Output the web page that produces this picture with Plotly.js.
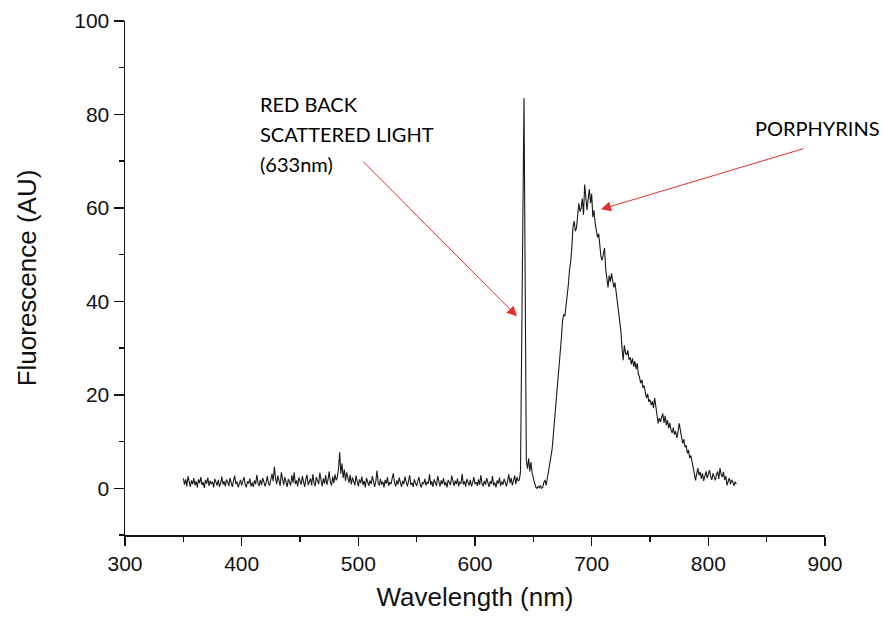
<!DOCTYPE html>
<html>
<head>
<meta charset="utf-8">
<script src="https://cdn.plot.ly/plotly-3.0.1.min.js"></script>
<style>
  html, body { margin: 0; padding: 0; background: #fff; }
  #chart { width: 884px; height: 618px; }
</style>
</head>
<body>
<div id="chart"></div>
<script>
// Fluorescence spectrum sampled every 1 nm from 350 nm to 824 nm
const wavelengthStart = 350;
const wavelengthStep = 1;

const fluorescence = [
  // 350-399
  2.1, 0.8, 1.9, 0.4, 2.6, 1.2, 0.3, 1.7, 0.9, 2.2,
  0.6, 1.5, 0.2, 1.9, 1.1, 2.4, 0.7, 1.3, 0.1, 1.8,
  1.0, 2.3, 0.5, 1.6, 0.9, 1.4, 0.2, 2.0, 1.2, 0.6,
  1.8, 0.3, 1.1, 2.5, 0.8, 1.5, 0.4, 1.9, 1.3, 0.5,
  2.2, 1.0, 0.3, 1.6, 2.7, 0.9, 1.4, 0.2, 1.1, 1.8,
  // 400-449
  0.6, 1.3, 2.4, 0.8, 0.2, 1.5, 1.0, 2.1, 0.4, 1.2,
  0.3, 1.7, 0.9, 2.9, 1.1, 0.5, 1.8, 0.7, 2.2, 1.4,
  0.4, 1.2, 2.6, 1.0, 0.6, 1.9, 3.1, 1.5, 4.6, 2.2,
  0.9, 2.7, 1.3, 0.5, 3.4, 1.8, 0.7, 2.4, 1.1, 0.3,
  2.0, 1.4, 0.6, 2.8, 1.2, 3.4, 0.9, 1.7, 0.4, 2.3,
  // 450-499
  1.5, 0.8, 2.6, 1.1, 0.3, 1.9, 2.9, 0.7, 1.4, 2.1,
  0.6, 3.0, 1.2, 0.5, 2.4, 1.6, 0.9, 3.3, 1.3, 0.4,
  2.1, 1.0, 2.8, 0.7, 1.8, 3.6, 1.4, 0.6, 2.5, 1.1,
  3.0, 1.7, 2.4, 4.2, 7.7, 3.1, 5.3, 2.2, 4.0, 1.6,
  3.4, 2.0, 1.2, 2.9, 0.8, 2.3, 1.5, 0.6, 2.7, 1.3,
  // 500-549
  0.4, 1.9, 1.1, 2.5, 0.7, 1.6, 0.2, 2.2, 1.0, 0.5,
  1.7, 0.9, 2.6, 1.2, 0.3, 1.5, 3.8, 1.1, 0.6, 2.0,
  0.8, 1.4, 0.2, 1.8, 1.0, 2.4, 0.5, 1.3, 0.9, 2.1,
  3.2, 1.2, 0.4, 1.7, 0.8, 2.3, 1.1, 0.3, 1.6, 0.9,
  2.5, 1.0, 0.4, 1.4, 2.8, 0.7, 1.2, 0.3, 1.9, 1.1,
  // 550-599
  0.5, 1.6, 2.4, 0.8, 0.2, 1.3, 0.9, 2.0, 0.6, 1.4,
  1.0, 3.0, 0.7, 1.5, 0.3, 1.9, 1.2, 0.5, 2.6, 1.0,
  0.4, 1.7, 0.9, 2.2, 0.6, 1.3, 0.2, 1.8, 1.1, 0.7,
  2.7, 1.2, 0.5, 1.6, 0.9, 2.1, 0.4, 1.4, 1.0, 3.1,
  0.8, 1.5, 0.3, 2.0, 1.1, 0.6, 1.8, 0.4, 1.2, 2.4,
  // 600-649 (back-scattered laser line near 642 nm)
  0.9, 1.3, 0.5, 1.9, 0.7, 2.8, 1.0, 0.4, 1.6, 0.8,
  2.2, 1.1, 0.3, 1.5, 0.9, 2.6, 0.6, 1.2, 0.2, 1.7,
  1.0, 2.3, 0.5, 1.4, 0.8, 2.0, 1.2, 0.4, 1.8, 3.0,
  1.1, 2.2, 0.6, 1.5, 2.7, 0.9, 2.4, 1.6, 1.8, 3.5,
  30.0, 72.0, 83.5, 45.0, 6.0, 4.2, 6.4, 3.6, 5.6, 3.2,
  // 650-699 (porphyrin band rising)
  2.0, 0.8, 0.3, 0.0, 0.4, 0.1, 0.6, 0.0, 0.2, 1.2,
  1.8, 0.6, 2.2, 3.4, 4.8, 6.0, 8.2, 11.0, 13.8, 16.8,
  20.0, 23.5, 26.8, 29.5, 32.0, 35.8, 37.2, 36.8, 39.0, 40.2,
  43.5, 46.7, 48.5, 51.5, 56.0, 57.2, 55.0, 55.7, 59.5, 61.0,
  59.2, 60.0, 62.0, 58.5, 65.0, 61.5, 59.5, 62.0, 64.0, 61.0,
  // 700-749
  63.0, 58.0, 59.5, 56.7, 55.5, 53.7, 54.5, 51.0, 49.5, 48.8,
  50.0, 51.4, 47.0, 45.0, 43.0, 45.5, 44.2, 46.0, 44.5, 43.0,
  44.0, 42.0, 40.0, 37.5, 35.0, 33.8, 30.0, 27.4, 30.6, 29.0,
  28.5, 29.5, 27.5, 28.0, 26.5, 27.8, 26.0, 27.2, 25.5, 26.8,
  24.5, 23.8, 22.5, 23.2, 21.5, 22.0, 20.5, 19.3, 20.2, 18.5,
  // 750-799
  19.0, 17.8, 18.6, 17.2, 19.3, 17.5, 15.5, 13.9, 15.0, 14.2,
  15.2, 16.0, 14.0, 15.5, 13.5, 14.6, 12.8, 14.0, 12.5, 11.8,
  13.0, 11.5, 12.2, 10.8, 12.0, 13.9, 12.5, 11.0, 9.6, 10.5,
  8.8, 9.2, 7.5, 8.2, 6.5, 7.0, 5.4, 4.0, 3.2, 1.7,
  3.0, 4.3, 2.8, 3.5, 2.0, 3.2, 1.6, 2.4, 3.6, 2.2,
  // 800-824
  3.0, 3.9, 2.5, 1.8, 3.2, 2.4, 1.7, 2.9, 3.6, 2.0,
  4.3, 3.0, 2.4, 3.5, 1.8, 2.6, 0.6, 1.5, 2.2, 0.9,
  1.8, 1.3, 0.5, 1.4, 0.9
];

const wavelength = fluorescence.map((_, i) => wavelengthStart + i * wavelengthStep);

const scatterLabel = ['RED BACK', 'SCATTERED LIGHT', '(633nm)'];
const porphyrinLabel = 'PORPHYRINS';

const trace = {
  x: wavelength,
  y: fluorescence,
  type: 'scatter',
  mode: 'lines',
  line: { color: '#1a1a1a', width: 1.1 },
  hoverinfo: 'x+y'
};

const labelFont = { family: 'Lato, "Open Sans", sans-serif', size: 20, color: '#000' };
const arrowRed = '#e3302c';

const annotations = [
  // multi-line label, one annotation per line for Calibri-like spacing
  { x: 414, y: 82.2, text: scatterLabel[0] },
  { x: 414, y: 75.8, text: scatterLabel[1] },
  { x: 414, y: 69.5, text: scatterLabel[2] },
  { x: 838.3, y: 77.0, text: porphyrinLabel }
].map(a => Object.assign({
  xref: 'x', yref: 'y', xanchor: 'left', yanchor: 'middle',
  showarrow: false, font: labelFont
}, a));

// arrows pointing at the laser line and the porphyrin band
annotations.push(
  { x: 636, y: 36.8, ax: 503, ay: 70.2, xref: 'x', yref: 'y', axref: 'x', ayref: 'y',
    text: '', showarrow: true, arrowhead: 2, arrowsize: 2, arrowwidth: 1, arrowcolor: arrowRed },
  { x: 708, y: 59.7, ax: 883, ay: 72.8, xref: 'x', yref: 'y', axref: 'x', ayref: 'y',
    text: '', showarrow: true, arrowhead: 2, arrowsize: 2, arrowwidth: 1, arrowcolor: arrowRed }
);

const axisFont = { family: 'Liberation Sans, Arial, sans-serif', size: 21, color: '#111' };
const titleFont = { family: 'Liberation Sans, Arial, sans-serif', size: 26, color: '#111' };

const layout = {
  width: 884,
  height: 618,
  margin: { l: 125, r: 59, t: 21, b: 83 },
  paper_bgcolor: '#fff',
  plot_bgcolor: '#fff',
  showlegend: false,
  font: axisFont,
  xaxis: {
    range: [300, 900],
    tick0: 300, dtick: 100,
    showgrid: false, zeroline: false,
    showline: true, linecolor: '#111', linewidth: 1.5,
    ticks: 'outside', ticklen: 9, tickwidth: 1.5, tickcolor: '#111',
    minor: { ticks: 'outside', dtick: 50, tick0: 300, ticklen: 5, tickwidth: 1.5, tickcolor: '#111', showgrid: false },
    tickfont: axisFont,
    title: { text: 'Wavelength (nm)', font: titleFont, standoff: 14 }
  },
  yaxis: {
    range: [-10, 100],
    tick0: 0, dtick: 20,
    showgrid: false, zeroline: false,
    showline: true, linecolor: '#111', linewidth: 1.5,
    ticks: 'outside', ticklen: 10, tickwidth: 1.5, tickcolor: '#111',
    minor: { ticks: 'outside', dtick: 10, tick0: 0, ticklen: 5, tickwidth: 1.5, tickcolor: '#111', showgrid: false },
    tickfont: axisFont,
    title: { text: 'Fluorescence (AU)', font: titleFont, standoff: 30 }
  },
  annotations: annotations
};

Plotly.newPlot('chart', [trace], layout, { displayModeBar: false, staticPlot: true });
</script>
</body>
</html>
